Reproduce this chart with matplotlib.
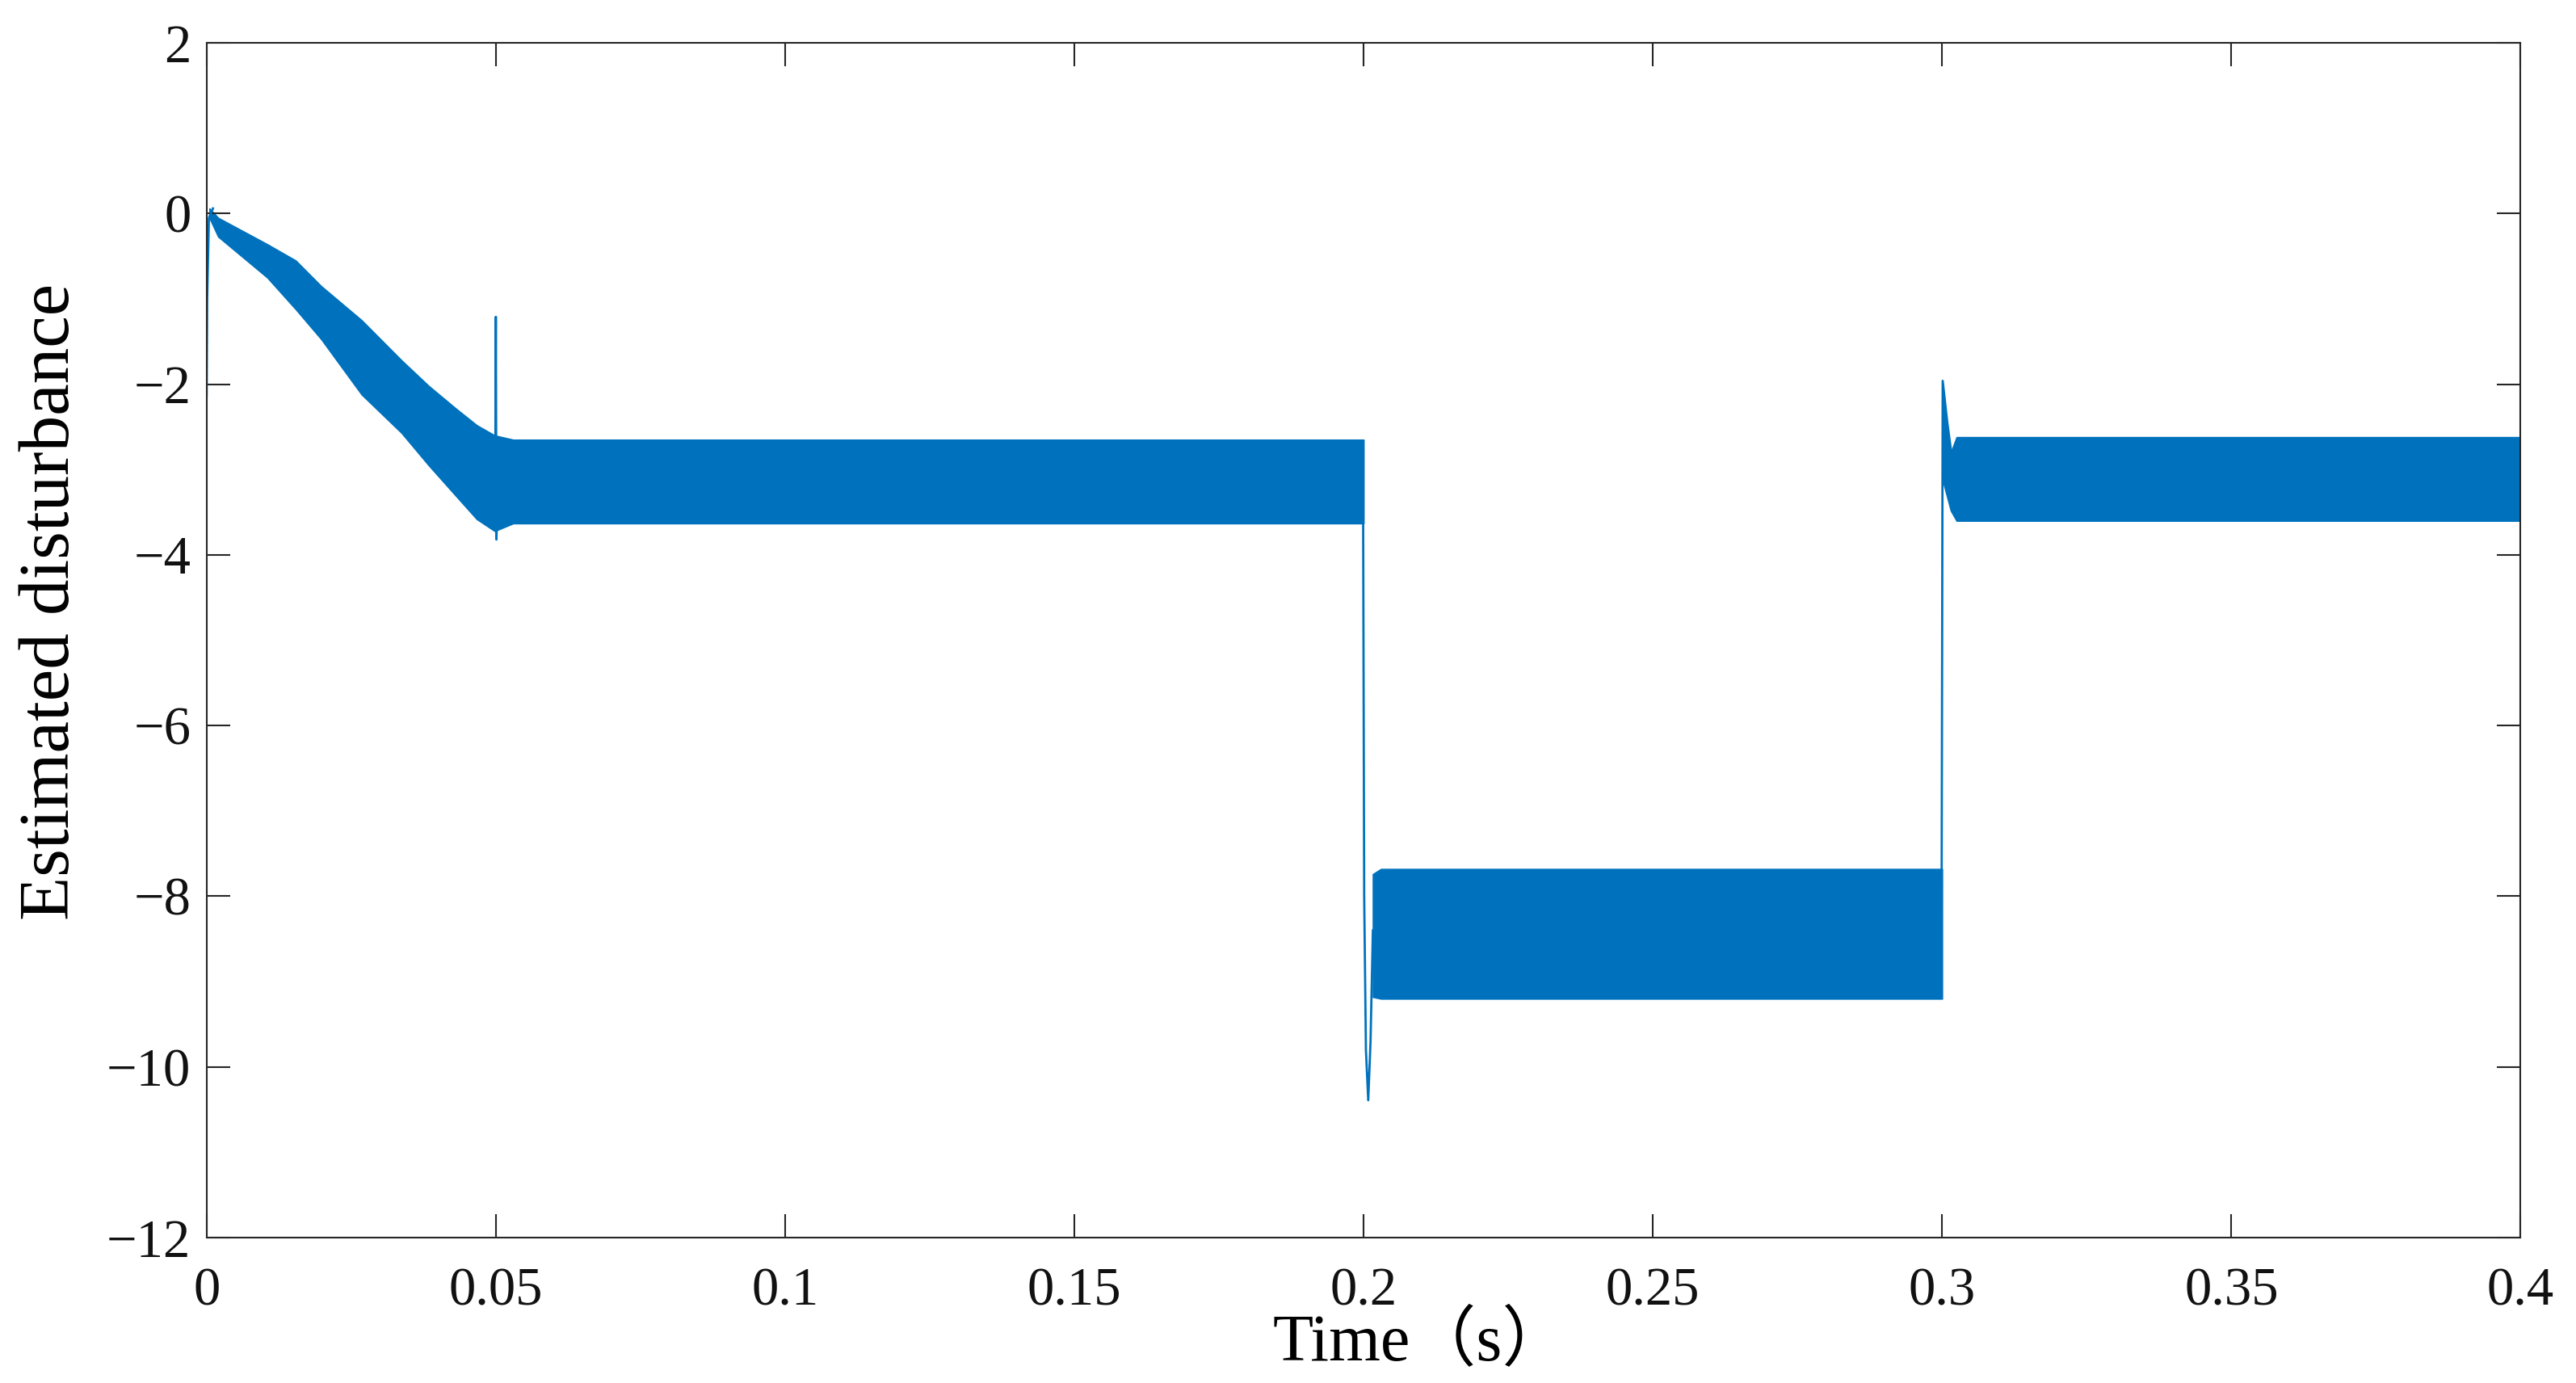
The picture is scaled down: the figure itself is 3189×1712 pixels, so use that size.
import matplotlib
matplotlib.use('Agg')
import matplotlib.pyplot as plt

############################ dados ############################

# faixa de oscilação (envelope superior / inferior), trecho 0 - 0.2 s
t_a = [0.0005, 0.002, 0.0105, 0.0154, 0.0198, 0.0268, 0.0337, 0.0384, 0.043, 0.0467, 0.0498, 0.053, 0.2]
sup_a = [0.06, -0.05, -0.36, -0.55, -0.85, -1.25, -1.72, -2.02, -2.28, -2.48, -2.60, -2.65, -2.65]
inf_a = [-0.05, -0.27, -0.75, -1.12, -1.47, -2.12, -2.57, -2.95, -3.30, -3.58, -3.72, -3.63, -3.63]

# trecho 0.2 - 0.3 s
t_b = [0.2016, 0.203, 0.3]
sup_b = [-7.74, -7.68, -7.68]
inf_b = [-9.18, -9.20, -9.20]

# trecho 0.3 - 0.4 s
t_c = [0.3002, 0.3015, 0.3025, 0.4]
sup_c = [-2.20, -2.80, -2.62, -2.62]
inf_c = [-3.15, -3.48, -3.60, -3.60]

# transitórios (picos e degraus)
t_ini = [0.0, 0.0001, 0.0004, 0.0011]
y_ini = [-2.14, -1.0, -0.05, 0.06]

t_p05 = [0.0499, 0.0500, 0.0501, 0.0503]
y_p05 = [-3.0, -1.21, -3.82, -3.3]

t_p20 = [0.1999, 0.2001, 0.2004, 0.2008, 0.2012, 0.2016]
y_p20 = [-3.0, -8.0, -9.8, -10.39, -9.7, -8.4]

t_p30 = [0.2999, 0.3001, 0.3009, 0.3017]
y_p30 = [-8.5, -1.96, -2.45, -2.86]

xticks = [0, 0.05, 0.1, 0.15, 0.2, 0.25, 0.3, 0.35, 0.4]
xtick_nomes = ['0', '0.05', '0.1', '0.15', '0.2', '0.25', '0.3', '0.35', '0.4']
yticks = [-12, -10, -8, -6, -4, -2, 0, 2]

################################################################################

azul = '#0072BD'
cinza = '#262626'
fonte = ['Liberation Serif', 'Noto Sans CJK SC']

fig = plt.figure(figsize=(15.945, 8.56), dpi=200)
ax = fig.add_axes([0.0802, 0.1051, 0.8983, 0.8639])

ax.fill_between(t_a, inf_a, sup_a, color=azul, lw=0.6)
ax.fill_between(t_b, inf_b, sup_b, color=azul, lw=0.6)
ax.fill_between(t_c, inf_c, sup_c, color=azul, lw=0.6)

for tt, yy in [(t_ini, y_ini), (t_p05, y_p05), (t_p20, y_p20), (t_p30, y_p30)]:
    ax.plot(tt, yy, color=azul, lw=1.0)

ax.set_xlim(0, 0.4)
ax.set_ylim(-12, 2)
ax.set_xticks(xticks)
ax.set_xticklabels(xtick_nomes)
ax.set_yticks(yticks)
ax.set_yticklabels(['\u2212' + str(abs(v)) if v < 0 else str(v) for v in yticks])

ax.tick_params(direction='in', length=10.3, width=0.75, color=cinza,
               top=True, right=True, labelsize=24, labelcolor='#111111')
ax.tick_params(axis='x', pad=13)
ax.tick_params(axis='y', pad=7)
for lab in ax.get_xticklabels() + ax.get_yticklabels():
    lab.set_family(fonte)

for s in ax.spines.values():
    s.set_linewidth(0.75)
    s.set_color(cinza)

ax.set_xlabel('Time（s）', fontsize=29.5, family=fonte, color='black')
ax.xaxis.set_label_coords(0.5245, -0.062)
ax.set_ylabel('Estimated disturbance', fontsize=32, family=fonte, color='black')
ax.yaxis.set_label_coords(-0.053, 0.532)

fig.savefig('out.png', dpi=200, facecolor='white')
